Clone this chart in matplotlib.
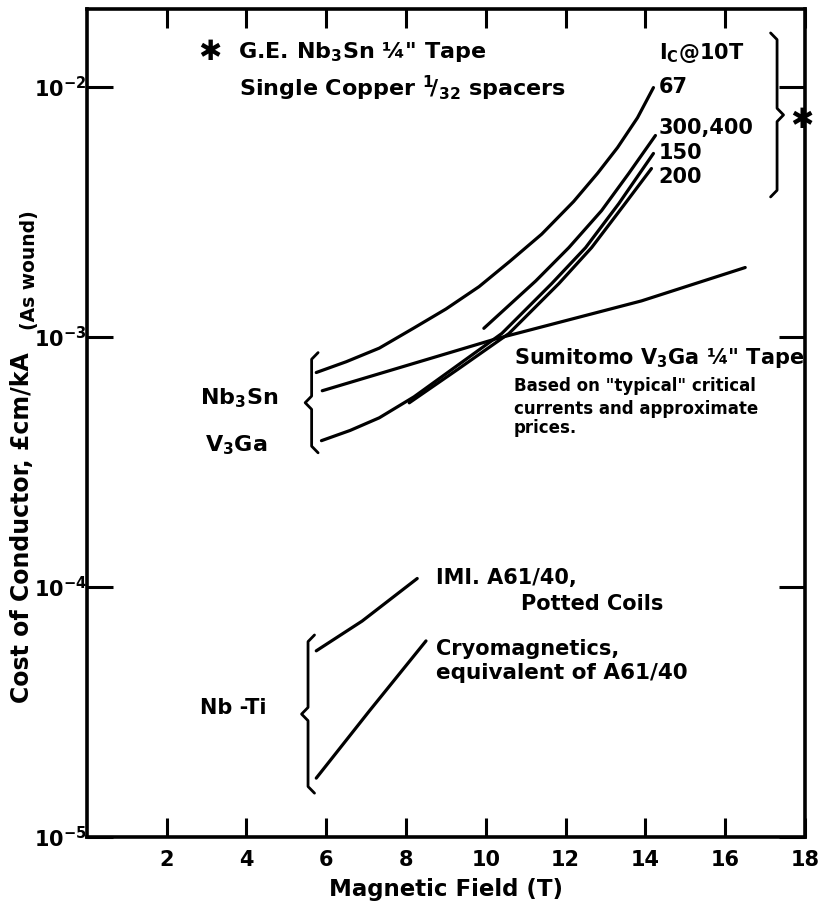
import numpy as np
import matplotlib
matplotlib.use("Agg")
import matplotlib.pyplot as plt
from matplotlib.ticker import FixedLocator, NullLocator

plt.rcParams['font.family'] = ['DejaVu Sans']
plt.rcParams['font.weight'] = 'bold'
plt.rcParams['axes.labelweight'] = 'bold'
plt.rcParams['mathtext.default'] = 'bf'

# G.E. Nb3Sn 1/4" tape, Ic @ 10T = 67, 300/400, 150, 200
x_67 = [5.75, 6.5, 7.33, 8.2, 9.0, 9.83, 10.6, 11.4, 12.2, 12.8, 13.3, 13.8, 14.2]
y_67 = [7.19e-4, 7.94e-4, 9.0e-4, 1.084e-3, 1.29e-3, 1.585e-3, 2.0e-3, 2.57e-3,
        3.47e-3, 4.5e-3, 5.7e-3, 7.5e-3, 9.9e-3]
x_300 = [9.95, 11.25, 12.08, 12.9, 13.58, 14.25]
y_300 = [1.08e-3, 1.67e-3, 2.27e-3, 3.19e-3, 4.49e-3, 6.37e-3]
x_150 = [5.88, 6.6, 7.33, 8.2, 9.0, 10.4, 11.65, 12.5, 13.33, 14.2]
y_150 = [3.84e-4, 4.22e-4, 4.74e-4, 5.75e-4, 7.11e-4, 1.03e-3, 1.63e-3,
         2.27e-3, 3.40e-3, 5.4e-3]
x_200 = [8.08, 9.3, 10.58, 11.83, 12.65, 13.45, 14.15]
y_200 = [5.44e-4, 7.41e-4, 1.03e-3, 1.63e-3, 2.27e-3, 3.34e-3, 4.7e-3]
# Sumitomo V3Ga tape
x_sum = [5.9, 10.25, 13.9, 16.5]
y_sum = [6.08e-4, 9.8e-4, 1.39e-3, 1.89e-3]
# Nb-Ti
x_imi = [5.75, 6.9, 8.28]
y_imi = [5.55e-5, 7.3e-5, 1.08e-4]
x_cryo = [5.75, 7.08, 8.5]
y_cryo = [1.72e-5, 3.19e-5, 6.08e-5]

x_ticks = [2, 4, 6, 8, 10, 12, 14, 16, 18]
y_ticks = [1e-5, 1e-4, 1e-3, 1e-2]

fig = plt.figure(figsize=(8.19, 9.13), dpi=100)
ax = fig.add_axes([0.106, 0.0832, 0.877, 0.907])

lw = 2.3
for xs, ys in [(x_67, y_67), (x_300, y_300), (x_150, y_150), (x_200, y_200),
               (x_sum, y_sum), (x_imi, y_imi), (x_cryo, y_cryo)]:
    ax.plot(xs, ys, color='black', lw=lw, solid_capstyle='round',
            solid_joinstyle='round')

ax.set_yscale('log')
ax.set_xlim(0, 18)
ax.set_ylim(1e-5, 10 ** -1.69)
ax.xaxis.set_major_locator(FixedLocator(x_ticks))
ax.yaxis.set_major_locator(FixedLocator(y_ticks))
ax.yaxis.set_minor_locator(NullLocator())
ax.xaxis.set_minor_locator(NullLocator())
ax.set_xticklabels([str(t) for t in x_ticks])
ax.tick_params(axis='x', direction='in', length=14, width=2.2, top=True,
               labelsize=15, pad=9)
ax.tick_params(axis='y', direction='in', length=19, width=2.2, right=True,
               labelsize=15, pad=0)
for s in ax.spines.values():
    s.set_linewidth(2.6)

ax.set_xlabel('Magnetic Field (T)', fontsize=16.5, fontweight='bold', labelpad=6)
fig.text(22 / 819, (913 - 703) / 913, 'Cost of Conductor, £cm/kA', rotation=90,
         ha='center', va='bottom', fontsize=17)
fig.text(30 / 819, (913 - 330) / 913, '(As wound)', rotation=90,
         ha='center', va='bottom', fontsize=13.5)


def brace(ax, x, y0, y1, left=True):
    dx, dy = 0.009, 0.008
    s = -1 if left else 1
    ym = (y0 + y1) / 2
    xs = [x - s * dx, x, x, x + s * dx, x, x, x - s * dx]
    ys = [y1, y1 - dy, ym + dy, ym, ym - dy, y0 + dy, y0]
    ax.plot(xs, ys, transform=ax.transAxes, color='black', lw=2.0,
            clip_on=False, solid_joinstyle='round', solid_capstyle='round')


brace(ax, 0.313, 0.464, 0.585, left=True)
brace(ax, 0.308, 0.053, 0.244, left=True)
brace(ax, 0.961, 0.773, 0.971, left=False)

fs = 15
ax.text(3.08, 1.37e-2, '✱', fontsize=20, ha='center', va='center')
ax.text(3.78, 1.37e-2, 'G.E. Nb$_3$Sn ¼" Tape', fontsize=16, va='center')
ax.text(3.82, 9.8e-3, 'Single Copper $^1\\!/_{32}$ spacers', fontsize=16, va='center')
ax.text(14.33, 1.36e-2, 'I$_C$@10T', fontsize=fs, va='center')
ax.text(14.33, 1.0e-2, '67', fontsize=fs, va='center')
ax.text(14.33, 6.8e-3, '300,400', fontsize=fs, va='center')
ax.text(14.33, 5.4e-3, '150', fontsize=fs, va='center')
ax.text(14.33, 4.33e-3, '200', fontsize=fs, va='center')
ax.text(0.996, 0.866, '✱', transform=ax.transAxes, fontsize=20,
        ha='center', va='center')

ax.text(10.7, 8.24e-4, 'Sumitomo V$_3$Ga ¼" Tape', fontsize=fs, va='center')
ax.text(10.7, 6.37e-4, 'Based on "typical" critical', fontsize=12, va='center')
ax.text(10.7, 5.15e-4, 'currents and approximate', fontsize=12, va='center')
ax.text(10.7, 4.32e-4, 'prices.', fontsize=12, va='center')

ax.text(2.83, 5.7e-4, 'Nb$_3$Sn', fontsize=16, va='center')
ax.text(2.95, 3.7e-4, 'V$_3$Ga', fontsize=16, va='center')

ax.text(8.75, 1.08e-4, 'IMI. A61/40,', fontsize=fs, va='center')
ax.text(10.88, 8.55e-5, 'Potted Coils', fontsize=fs, va='center')
ax.text(8.75, 5.65e-5, 'Cryomagnetics,', fontsize=fs, va='center')
ax.text(8.75, 4.53e-5, 'equivalent of A61/40', fontsize=15.5, va='center')
ax.text(2.83, 3.28e-5, 'Nb -Ti', fontsize=fs, va='center')

fig.savefig('out.png', dpi=100)
